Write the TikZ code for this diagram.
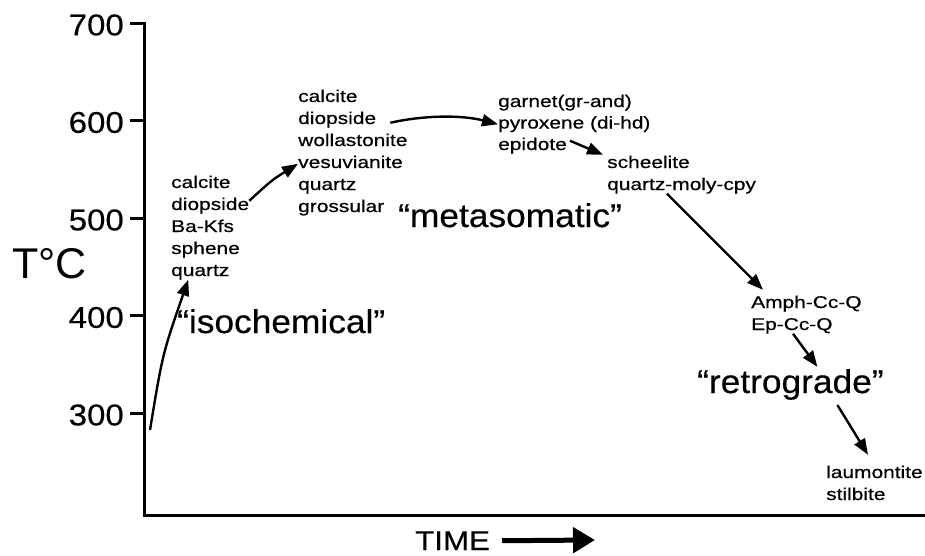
\documentclass[tikz,border=0pt]{standalone}
\usepackage{fontspec}
\setmainfont{Liberation Sans}
\newfontfamily\minfont[FakeStretch=1.23,FakeBold=0.6]{Liberation Sans}
\newfontfamily\stgfont[FakeStretch=1.07,FakeBold=0.4]{Liberation Sans}
\newfontfamily\tkfont[FakeStretch=1.1,FakeBold=0.4]{Liberation Sans}
\newfontfamily\timefont[FakeStretch=1.16,FakeBold=0.4]{Liberation Sans}
\usetikzlibrary{arrows.meta}
\tikzset{
  mn/.style={font=\minfont\fontsize{17}{20}\selectfont,inner sep=0pt,anchor=base west,text height=12pt,text depth=3.5pt},
  stg/.style={font=\stgfont\fontsize{33}{36}\selectfont,inner sep=0pt,anchor=base west},
  tk/.style={font=\tkfont\fontsize{30}{32}\selectfont,inner sep=0pt,anchor=east},
  ax/.style={line width=3pt},
  rx/.style={line width=2.4pt,-{Triangle[length=16pt,width=12pt]}}
}

\begin{document}
\begin{tikzpicture}[x=1pt,y=-1pt]
\useasboundingbox (0,0) rectangle (925,555);
% axes and ticks
\draw[ax] (130,23) -- (144,23) -- (144,515) -- (925,515);
\node[tk] (t700) at (124,25) {700};
\foreach \t/\y in {600/120.5,500/218,400/315.5,300/413} {
  \draw[ax] (130,\y) -- (144,\y);
  \node[tk] (t\t) at (124,{\y+2}) {\t};
}
\node[font=\fontsize{43}{46}\selectfont,inner sep=0pt,anchor=base west] (tc) at (12,278) {T°C};
\node[font=\timefont\fontsize{27}{30}\selectfont,inner sep=0pt,anchor=base west] (time) at (415,550) {TIME};
\coordinate (tend) at (595,540);
\draw[line width=5pt,-{Triangle[length=22pt,width=25pt]}] ([xshift=12pt]time.east) -- (tend);

% mineral assemblages
\node[mn] (cal1) at (171,188) {calcite};
\node[mn] (dio1) at (171,210) {diopside};
\node[mn] (bak1) at (171,232) {Ba-Kfs};
\node[mn] (sph1) at (171,254) {sphene};
\node[mn] (qtz1) at (171,276) {quartz};

\node[mn] (cal2) at (298,102) {calcite};
\node[mn] (dio2) at (298,124) {diopside};
\node[mn] (wol2) at (298,146) {wollastonite};
\node[mn] (ves2) at (298,168) {vesuvianite};
\node[mn] (qtz2) at (298,190) {quartz};
\node[mn] (gro2) at (298,212) {grossular};

\node[mn] (grt3) at (498,107) {garnet(gr-and)};
\node[mn] (pyx3) at (498,128.5) {pyroxene (di-hd)};
\node[mn] (epi3) at (498,150) {epidote};

\node[mn] (sch4) at (607,168) {scheelite};
\node[mn] (qmc4) at (607,190) {quartz-moly-cpy};

\node[mn] (amp5) at (751,308) {Amph-Cc-Q};
\node[mn] (ep5) at (751,330) {Ep-Cc-Q};

\node[mn] (lau6) at (826,478) {laumontite};
\node[mn] (stb6) at (826,500) {stilbite};

% stages
\node[stg] (iso) at (177,333) {“isochemical”};
\node[stg] (meta) at (398,227) {“metasomatic”};
\node[stg] (retro) at (697,393) {“retrograde”};

% path
\coordinate (s0) at (150,430);
\draw[rx] (s0) .. controls (162.5,354) .. ([xshift=-12pt]qtz1.south);
\draw[rx] ([yshift=5pt]dio1.east) .. controls (272,180) .. (ves2.west);
\draw[rx] ([xshift=14pt,yshift=-3pt]dio2.east) .. controls (425,115) and (462,115) .. (pyx3.west);
\draw[rx] ([xshift=3pt,yshift=5pt]epi3.east) -- ([xshift=-4pt,yshift=1pt]sch4.north west);
\draw[rx] ([xshift=60pt]qmc4.south west) -- ([xshift=12pt,yshift=6pt]amp5.north west);
\draw[rx] ([xshift=42pt]ep5.south west) -- ([xshift=27pt,yshift=2pt]retro.north);
\draw[rx] ([xshift=47pt,yshift=-5pt]retro.south) -- ([xshift=42pt,yshift=11pt]lau6.north west);
\end{tikzpicture}
\end{document}
